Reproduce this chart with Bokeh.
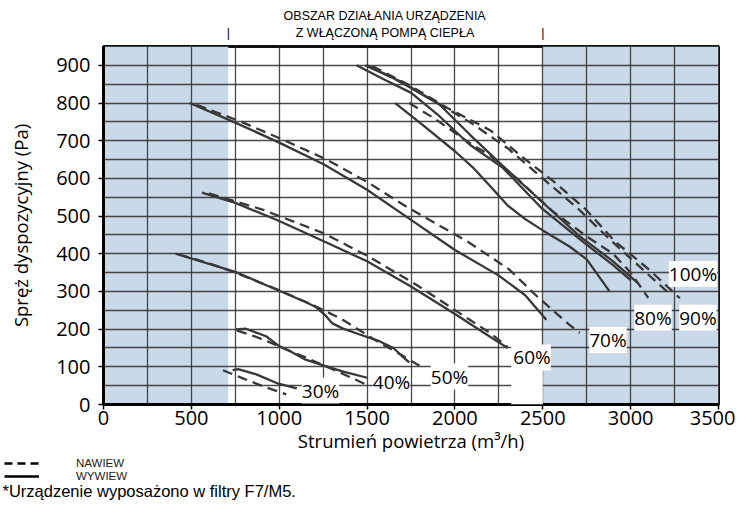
from bokeh.plotting import figure
from bokeh.layouts import column, row
from bokeh.models import (BoxAnnotation, Label, Legend, LegendItem, LinearAxis, FixedTicker,
                          SingleIntervalTicker, Range1d)
from bokeh.embed import file_html
from bokeh.resources import INLINE

# ---------------- data ----------------
speeds = ["30%", "40%", "50%", "60%", "70%", "80%", "90%", "100%"]

# WYWIEW (solid)
wyw_30_x = [735, 765, 870, 985, 1100]
wyw_30_y = [91, 94, 80, 57, 43]
wyw_40_x = [755, 810, 925, 1000, 1060, 1150, 1250, 1360, 1500]
wyw_40_y = [199, 201, 181, 155, 142, 119, 104, 88, 71]
wyw_50_x = [410, 750, 1000, 1150, 1210, 1260, 1300, 1360, 1450, 1570, 1650, 1700, 1740]
wyw_50_y = [400, 352, 302, 272, 258, 238, 216, 202, 187, 168, 150, 128, 112]
wyw_60_x = [560, 750, 1000, 1250, 1500, 1750, 2000, 2200, 2300]
wyw_60_y = [562, 535, 487, 434, 380, 313, 240, 180, 150]
wyw_70_x = [490, 750, 1000, 1250, 1500, 1750, 2000, 2250, 2400, 2520]
wyw_70_y = [800, 748, 695, 638, 570, 490, 410, 342, 290, 225]
wyw_80_x = [1660, 1800, 2000, 2100, 2200, 2300, 2400, 2500, 2650, 2750, 2880]
wyw_80_y = [800, 748, 672, 630, 580, 528, 492, 462, 420, 385, 300]
wyw_90_x = [1440, 1600, 1751, 1912, 2083, 2273, 2491, 2747, 2900, 3000]
wyw_90_y = [900, 862, 827, 765, 690, 628, 522, 425, 370, 330]
wyw_100_x = [1490, 1650, 1750, 1912, 2083, 2254, 2481, 2709, 2900, 3040]
wyw_100_y = [900, 866, 840, 796, 717, 641, 544, 447, 380, 323]

# NAWIEW (dashed)
naw_30_x = [680, 790, 910, 1040]
naw_30_y = [91, 70, 48, 27]
naw_40_x = [760, 860, 930, 1040, 1150, 1330, 1495]
naw_40_y = [196, 181, 168, 146, 125, 88, 53]
naw_50_x = [430, 600, 750, 1000, 1200, 1350, 1550, 1700, 1820]
naw_50_y = [398, 375, 350, 303, 262, 228, 170, 130, 97]
naw_60_x = [600, 900, 1250, 1500, 1780, 2080, 2200, 2300]
naw_60_y = [560, 518, 455, 395, 318, 226, 190, 152]
naw_70_x = [530, 775, 1020, 1270, 1510, 1720, 2080, 2310, 2460, 2650, 2710]
naw_70_y = [795, 752, 703, 650, 588, 526, 430, 358, 290, 212, 190]
naw_80_x = [1740, 1890, 2080, 2200, 2360, 2550, 2750, 2900, 3000, 3100]
naw_80_y = [800, 757, 695, 661, 597, 515, 446, 400, 350, 283]
naw_90_x = [1500, 1700, 1900, 2100, 2300, 2500, 2700, 2900, 3100, 3230]
naw_90_y = [900, 855, 800, 745, 680, 600, 520, 430, 345, 290]
naw_100_x = [1530, 1750, 1960, 2200, 2380, 2570, 2750, 2910, 3100, 3280]
naw_100_y = [898, 845, 786, 728, 658, 589, 515, 433, 360, 282]

# area outside heat-pump operating range (shaded)
band_left = [0, 2500]
band_right = [710, 3500]

x_ticks = [0, 500, 1000, 1500, 2000, 2500, 3000, 3500]
y_ticks = [0, 100, 200, 300, 400, 500, 600, 700, 800, 900]

wyw = [(wyw_30_x, wyw_30_y), (wyw_40_x, wyw_40_y), (wyw_50_x, wyw_50_y),
       (wyw_60_x, wyw_60_y), (wyw_70_x, wyw_70_y), (wyw_80_x, wyw_80_y),
       (wyw_90_x, wyw_90_y), (wyw_100_x, wyw_100_y)]
naw = [(naw_30_x, naw_30_y), (naw_40_x, naw_40_y), (naw_50_x, naw_50_y),
       (naw_60_x, naw_60_y), (naw_70_x, naw_70_y), (naw_80_x, naw_80_y),
       (naw_90_x, naw_90_y), (naw_100_x, naw_100_y)]

top_text = "OBSZAR DZIAŁANIA URZĄDZENIA\nZ WŁĄCZONĄ POMPĄ CIEPŁA"
top_text_x = 1602
footnote = "*Urządzenie wyposażono w filtry  F7/M5."

# ---------------- main figure ----------------
FONT = "Open Sans"
SANS = "Liberation Sans"
LINE = "#383838"

p = figure(width=735, height=456, x_range=Range1d(0, 3500), y_range=Range1d(0, 950),
           output_backend="svg", toolbar_location=None, title=None,
           min_border_left=103, min_border_right=17, min_border_top=46, min_border_bottom=52)
p.outline_line_color = "#111111"
p.outline_line_width = 3
p.background_fill_color = "white"
p.border_fill_color = "white"

for l, r in zip(band_left, band_right):
    p.add_layout(BoxAnnotation(left=l, right=r, fill_color="#c9d9e8", fill_alpha=1.0,
                               line_alpha=0, level="image"))

p.xgrid.ticker = SingleIntervalTicker(interval=250)
p.ygrid.ticker = SingleIntervalTicker(interval=50)
p.xgrid.grid_line_color = "#2a2a2a"
p.ygrid.grid_line_color = "#2a2a2a"
p.xgrid.grid_line_width = 1.3
p.ygrid.grid_line_width = 1.3
p.xgrid.grid_line_alpha = 0.85
p.ygrid.grid_line_alpha = 0.85

p.xaxis.ticker = x_ticks
p.yaxis.ticker = y_ticks
for ax in (p.xaxis[0], p.yaxis[0]):
    ax.axis_line_color = "black"
    ax.axis_line_width = 3
    ax.major_tick_line_color = "black"
    ax.major_tick_line_width = 1.5
    ax.major_tick_out = 5
    ax.major_tick_in = 0
    ax.minor_tick_line_color = None
    ax.major_label_text_font = FONT
    ax.major_label_text_font_size = "20px"
    ax.major_label_text_color = "black"
    ax.axis_label_text_font = FONT
    ax.axis_label_text_font_size = "18.5px"
    ax.axis_label_text_font_style = "normal"
    ax.axis_label_text_color = "black"

p.xaxis.axis_label = "Strumień powietrza (m³/h)"
p.yaxis.axis_label = "Spręż dyspozycyjny (Pa)"
p.xaxis.major_label_standoff = 1
p.xaxis.axis_label_standoff = 0
p.yaxis.major_label_standoff = 8
p.yaxis.axis_label_standoff = 20

# top annotation: operating range of the heat pump
top_axis = LinearAxis(ticker=FixedTicker(ticks=[band_right[0], top_text_x, band_left[1]]),
                      major_label_overrides={band_right[0]: "|", top_text_x: top_text,
                                             band_left[1]: "|"},
                      axis_line_color=None, major_tick_line_color=None,
                      minor_tick_line_color=None, major_label_standoff=1,
                      major_label_text_font=SANS, major_label_text_font_size="12.5px",
                      major_label_text_color="black")
p.add_layout(top_axis, "above")

# white area behind the 60% label
p.add_layout(BoxAnnotation(left=2320, right=2500, bottom=0, top=157, fill_color="white",
                           fill_alpha=1.0, line_alpha=0, level="guide"))

for (sx, sy), (dx, dy) in zip(wyw, naw):
    p.line(sx, sy, line_color=LINE, line_width=2.3)
    p.line(dx, dy, line_color=LINE, line_width=2.3, line_dash="10 6")

# speed labels
label_pos = [(1235, 37), (1639, 61), (1969, 74), (2439, 125),
             (2871, 171), (3127, 230), (3383, 230), (3355, 346)]
for txt, (lx, ly) in zip(speeds, label_pos):
    p.add_layout(Label(x=lx, y=ly, text=txt, text_align="center", text_baseline="middle",
                       text_font=FONT, text_font_size="19px", text_color="black",
                       background_fill_color="white", background_fill_alpha=1.0))

# ---------------- legend / footnote strip ----------------
p2 = figure(width=735, height=58, x_range=Range1d(0, 1), y_range=Range1d(0, 1),
            output_backend="svg", toolbar_location=None, title=None,
            x_axis_location=None, y_axis_location=None,
            min_border_left=0, min_border_right=0, min_border_top=0, min_border_bottom=0)
p2.outline_line_color = None
p2.grid.visible = False
p2.background_fill_color = "white"
p2.border_fill_color = "white"
nan = float("nan")
r_naw = p2.line([nan], [nan], line_color="black", line_width=2.5, line_dash="8 5")
r_wyw = p2.line([nan], [nan], line_color="black", line_width=2.5)

legend = Legend(items=[LegendItem(label="NAWIEW", renderers=[r_naw]),
                       LegendItem(label="WYWIEW", renderers=[r_wyw])],
                location=(4, 32), orientation="vertical",
                glyph_width=35, glyph_height=12, label_height=12, label_standoff=37,
                spacing=1, padding=0, margin=0, border_line_alpha=0,
                background_fill_alpha=0, label_text_font=SANS,
                label_text_font_size="11.5px", label_text_color="#222222")
p2.add_layout(legend, "center")
p2.add_layout(Label(x=2, y=24, x_units="screen", y_units="screen", text=footnote,
                    text_align="left", text_baseline="middle", text_font=SANS,
                    text_font_size="16.5px", text_color="black"))

open("out.html", "w").write(file_html(column(p, row(p2), spacing=0), INLINE))
